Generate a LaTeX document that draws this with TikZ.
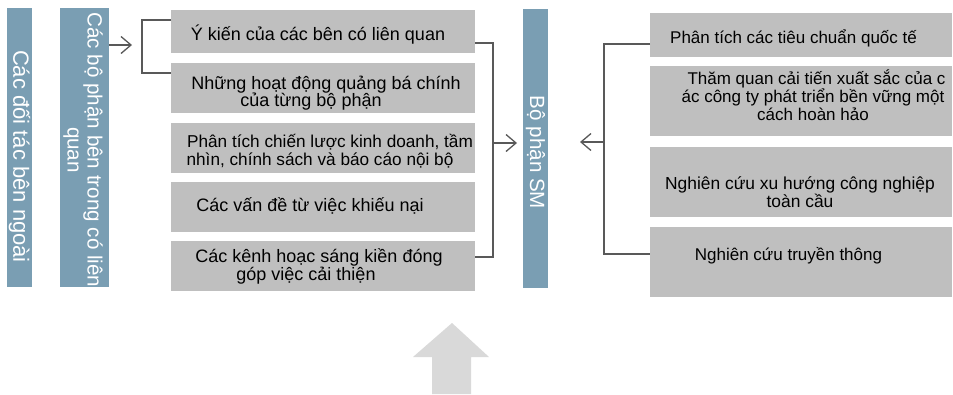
\documentclass[tikz,border=0pt]{standalone}
\usepackage{fontspec}
\setmainfont{Liberation Sans}
\usetikzlibrary{arrows.meta}
\definecolor{barblue}{HTML}{7A9EB3}
\definecolor{boxgray}{HTML}{BFBFBF}
\definecolor{linegray}{HTML}{595959}
\definecolor{arrowgray}{HTML}{D9D9D9}
\begin{document}
\begin{tikzpicture}[x=1pt,y=-1pt,
 bar/.style={fill=barblue, draw=none, inner sep=0pt, anchor=north west},
 box/.style={fill=boxgray, draw=none, inner sep=0pt, anchor=north west},
 ltext/.style={font=\fontsize{18}{17.5}\selectfont, align=center, anchor=base, inner sep=0pt},
 rtext/.style={font=\fontsize{17}{15.2}\selectfont, align=center, anchor=base, inner sep=0pt},
 btext/.style={font=\fontsize{20.6}{20}\selectfont, text=white, align=center, rotate=-90, inner sep=0pt},
 conn/.style={draw=linegray, line width=1.3pt},
 tip/.style={-{Straight Barb[length=10pt,width=17pt,line width=1.3pt]}}
]
\useasboundingbox[fill=white] (0,0) rectangle (953,394);
% bars
\node[bar, minimum width=25pt, minimum height=279pt] (p1) at (7,8) {};
\node[bar, minimum width=49pt, minimum height=279pt] (p2) at (60,8) {};
\node[bar, minimum width=25pt, minimum height=279pt] (p3) at (523,9) {};
\node[btext, font=\fontsize{22}{20}\selectfont] (bt1) at (19.5,156.5) {Các đối tác bên ngoài};
\node[btext] (bt2) at (83,150) {Các bộ phận bên trong có liên\\quan};
\node[btext] (bt3) at (535.5,152.5) {Bộ phận SM};
% left boxes
\node[box, minimum width=304pt, minimum height=43pt] (b1) at (171,10) {};
\node[box, minimum width=304pt, minimum height=50pt] (b2) at (171,63) {};
\node[box, minimum width=304pt, minimum height=50pt] (b3) at (171,123) {};
\node[box, minimum width=304pt, minimum height=50pt] (b4) at (171,182) {};
\node[box, minimum width=304pt, minimum height=50pt] (b5) at (171,241) {};
\node[ltext] (t1) at (318,40) {Ý kiến của các bên có liên quan};
\node[ltext] (t2) at (326,106.7) {Những hoạt động quảng bá chính\\của từng bộ phận\hspace*{30pt}};
\node[ltext, font=\fontsize{17.2}{18}\selectfont] (t3) at (330,165) {Phân tích chiến lược kinh doanh, tầm\\nhìn, chính sách và báo cáo nội bộ\hspace*{20pt}};
\node[ltext] (t4) at (310,211.7) {Các vấn đề từ việc khiếu nại};
\node[ltext, font=\fontsize{18}{16.7}\selectfont] (t5) at (319,280.7) {Các kênh hoạc sáng kiền đóng\\góp việc cải thiện\hspace*{26pt}};
% right boxes
\node[box, minimum width=302pt, minimum height=44pt] (r1) at (650,13) {};
\node[box, minimum width=302pt, minimum height=70pt] (r2) at (650,66) {};
\node[box, minimum width=302pt, minimum height=70pt] (r3) at (650,147) {};
\node[box, minimum width=302pt, minimum height=70pt] (r4) at (650,227) {};
\node[rtext] (s1) at (793.5,43) {Phân tích các tiêu chuẩn quốc tế};
\node[rtext] (s2) at (813,120) {\hspace*{7pt}Thăm quan cải tiến xuất sắc của c\\ác công ty phát triển bền vững một\hspace*{6pt}\\cách hoàn hảo};
\node[rtext, font=\fontsize{17.4}{16}\selectfont] (s3) at (800,207) {Nghiên cứu xu hướng công nghiệp\\toàn cầu};
\node[rtext] (s4) at (788.5,260) {Nghiên cứu truyền thông};
% connectors
\coordinate (a1) at (132,45);
\draw[conn,tip] (p2.east |- a1) -- (a1);
\coordinate (k1) at (142,20);
\coordinate (k2) at (142,73);
\draw[conn] (b1.west |- k1) -- (k1) -- (k2) -- (b2.west |- k2);
\coordinate (m1) at (493,43);
\coordinate (m2) at (493,257);
\draw[conn] (b1.east |- m1) -- (m1) -- (m2) -- (b5.east |- m2);
\coordinate (m3) at (493,143);
\coordinate (m4) at (517,143);
\draw[conn,tip] (m3) -- (m4);
\coordinate (n1) at (604,44);
\coordinate (n2) at (604,254);
\draw[conn] (r1.west |- n1) -- (n1) -- (n2) -- (r4.west |- n2);
\coordinate (n3) at (604,142);
\coordinate (n4) at (580,142);
\draw[conn,tip] (n3) -- (n4);
% big arrow
\fill[arrowgray] (452,323) -- (489,357) -- (471,357) -- (471,394) -- (432,394) -- (432,357) -- (413,357) -- cycle;
\end{tikzpicture}
\end{document}
